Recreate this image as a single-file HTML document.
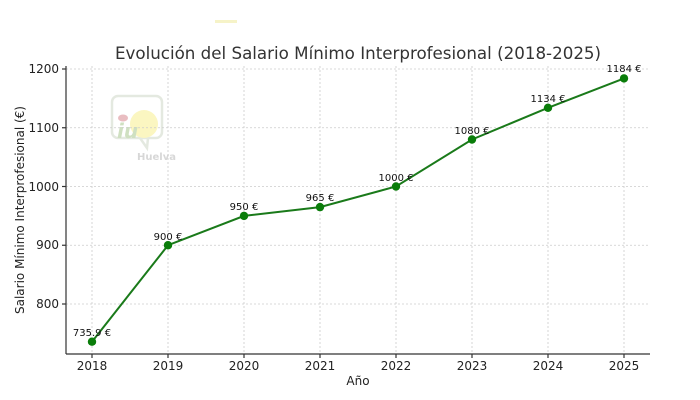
<!DOCTYPE html>
<html><head><meta charset="utf-8"><style>
body{margin:0;background:#fff;}
svg{display:block;font-family:"DejaVu Sans","Liberation Sans",sans-serif;}
</style></head><body>
<svg width="700" height="400" viewBox="0 0 700 400" xmlns="http://www.w3.org/2000/svg">
<rect width="700" height="400" fill="#fff"/>
<rect x="215" y="20" width="22" height="3" fill="#f6f3c8"/>
<g opacity="0.55">
<rect x="112" y="96" width="50" height="42" rx="6" fill="none" stroke="#cfd8c8" stroke-width="2.5"/>
<path d="M140 138 L147 148 L148 138" fill="none" stroke="#cfd8c8" stroke-width="2.5"/>
<circle cx="144" cy="124" r="14" fill="#f8ef90"/>
<ellipse cx="123" cy="118" rx="5" ry="3.5" fill="#d88890"/>
<text x="117" y="138" font-size="20" font-weight="bold" font-style="italic" fill="#a8c890">iu</text>
<text x="137" y="160" font-size="10" font-weight="bold" fill="#b8b8b8">Huelva</text>
</g>
<g stroke="#cccccc" stroke-width="0.8" stroke-dasharray="2,2">
<line x1="66" x2="650" y1="69" y2="69"/>
<line x1="66" x2="650" y1="127.75" y2="127.75"/>
<line x1="66" x2="650" y1="186.5" y2="186.5"/>
<line x1="66" x2="650" y1="245.25" y2="245.25"/>
<line x1="66" x2="650" y1="304" y2="304"/>
<line x1="92" x2="92" y1="66" y2="354"/>
<line x1="168" x2="168" y1="66" y2="354"/>
<line x1="244" x2="244" y1="66" y2="354"/>
<line x1="320" x2="320" y1="66" y2="354"/>
<line x1="396" x2="396" y1="66" y2="354"/>
<line x1="472" x2="472" y1="66" y2="354"/>
<line x1="548" x2="548" y1="66" y2="354"/>
<line x1="624" x2="624" y1="66" y2="354"/>
</g>
<g stroke="#333" stroke-width="1.2">
<line x1="66" x2="66" y1="66" y2="354"/>
<line x1="66" x2="650" y1="354" y2="354"/>
<line x1="62" x2="66" y1="69" y2="69"/><line x1="62" x2="66" y1="127.75" y2="127.75"/><line x1="62" x2="66" y1="186.5" y2="186.5"/><line x1="62" x2="66" y1="245.25" y2="245.25"/><line x1="62" x2="66" y1="304" y2="304"/>
<line x1="92" x2="92" y1="354" y2="358"/><line x1="168" x2="168" y1="354" y2="358"/><line x1="244" x2="244" y1="354" y2="358"/><line x1="320" x2="320" y1="354" y2="358"/><line x1="396" x2="396" y1="354" y2="358"/><line x1="472" x2="472" y1="354" y2="358"/><line x1="548" x2="548" y1="354" y2="358"/><line x1="624" x2="624" y1="354" y2="358"/>
</g>
<g font-size="12" fill="#222" text-anchor="end">
<text x="59" y="73">1200</text><text x="59" y="132">1100</text><text x="59" y="191">1000</text><text x="59" y="249">900</text><text x="59" y="308">800</text>
</g>
<g font-size="12" fill="#222" text-anchor="middle">
<text x="92" y="370">2018</text><text x="168" y="370">2019</text><text x="244" y="370">2020</text><text x="320" y="370">2021</text><text x="396" y="370">2022</text><text x="472" y="370">2023</text><text x="548" y="370">2024</text><text x="624" y="370">2025</text>
<text x="358" y="385">Año</text>
<text x="358" y="59" font-size="16.7" fill="#333">Evolución del Salario Mínimo Interprofesional (2018-2025)</text>
</g>
<text transform="translate(24,210) rotate(-90)" font-size="12" fill="#222" text-anchor="middle">Salario Mínimo Interprofesional (€)</text>
<polyline fill="none" stroke="#1a7a1a" stroke-width="2" points="92,341.7 168,245.25 244,215.9 320,207.1 396,186.5 472,139.5 548,107.8 624,78.4"/>
<g fill="#0a7d0a">
<circle cx="92" cy="341.7" r="4.2"/><circle cx="168" cy="245.25" r="4.2"/><circle cx="244" cy="215.9" r="4.2"/><circle cx="320" cy="207.1" r="4.2"/><circle cx="396" cy="186.5" r="4.2"/><circle cx="472" cy="139.5" r="4.2"/><circle cx="548" cy="107.8" r="4.2"/><circle cx="624" cy="78.4" r="4.2"/>
</g>
<g font-size="10" fill="#111" text-anchor="middle">
<text x="92" y="336">735.9 €</text><text x="168" y="240">900 €</text><text x="244" y="210">950 €</text><text x="320" y="201">965 €</text><text x="396" y="181">1000 €</text><text x="472" y="134">1080 €</text><text x="548" y="102">1134 €</text><text x="624" y="72">1184 €</text>
</g>
</svg>
</body></html>
